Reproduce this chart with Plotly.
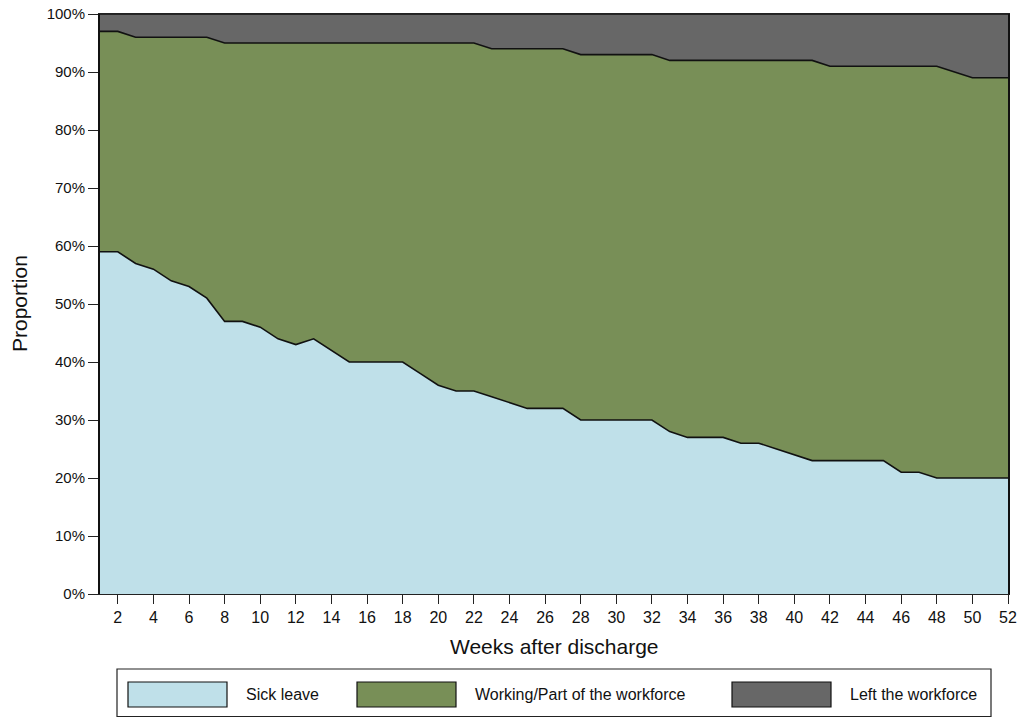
import plotly.graph_objects as go

weeks = list(range(1, 53))
sick_leave = [59, 59, 57, 56, 54, 53, 51, 47, 47, 46, 44, 43, 44, 42, 40, 40, 40, 40, 38, 36,
              35, 35, 34, 33, 32, 32, 32, 30, 30, 30, 30, 30, 28, 27, 27, 27, 26, 26, 25, 24,
              23, 23, 23, 23, 23, 21, 21, 20, 20, 20, 20, 20]
working = [38, 38, 39, 40, 42, 43, 45, 48, 48, 49, 51, 52, 51, 53, 55, 55, 55, 55, 57, 59,
           60, 60, 60, 61, 62, 62, 62, 63, 63, 63, 63, 63, 64, 65, 65, 65, 66, 66, 67, 68,
           69, 68, 68, 68, 68, 70, 70, 71, 70, 69, 69, 69]
left_workforce = [3, 3, 4, 4, 4, 4, 4, 5, 5, 5, 5, 5, 5, 5, 5, 5, 5, 5, 5, 5,
                  5, 5, 6, 6, 6, 6, 6, 7, 7, 7, 7, 7, 8, 8, 8, 8, 8, 8, 8, 8,
                  8, 9, 9, 9, 9, 9, 9, 9, 10, 11, 11, 11]
series_names = ["Sick leave", "Working/Part of the workforce", "Left the workforce"]
colors = ["#BFE0E9", "#788F57", "#676767"]
x_ticks = list(range(2, 53, 2))
y_ticks = list(range(0, 101, 10))

FONT = "Liberation Sans, Arial, sans-serif"

fig = go.Figure()
for name, vals, col in zip(series_names, [sick_leave, working, left_workforce], colors):
    fig.add_trace(go.Scatter(
        x=weeks, y=vals, name=name, stackgroup="one", mode="lines",
        line=dict(color="#111111", width=1.6), fillcolor=col, showlegend=False,
    ))

W, H = 1020, 718
L, R, T, B = 100, 1008, 14, 594  # plot area in pixels

def px(x):
    return (x - L) / (R - L)

def py(y):
    return (B - y) / (B - T)

shapes = [dict(type="rect", xref="paper", yref="paper",
               x0=px(117), x1=px(991), y0=py(669), y1=py(716.5),
               line=dict(color="#222222", width=1.2), fillcolor="white", layer="above")]
annotations = []
sw = [(128, 227, 244), (357, 456, 473), (732, 831, 848)]
for (x0, x1, tx), name, col in zip(sw, series_names, colors):
    shapes.append(dict(type="rect", xref="paper", yref="paper",
                       x0=px(x0), x1=px(x1), y0=py(707), y1=py(682),
                       line=dict(color="#111111", width=1.2), fillcolor=col, layer="above"))
    annotations.append(dict(xref="paper", yref="paper", x=px(tx), y=py(694.5),
                            text=name, showarrow=False, xanchor="left", yanchor="middle",
                            font=dict(family=FONT, size=16, color="#111111")))

# axis titles
annotations.append(dict(xref="paper", yref="paper", x=px(554), y=py(646),
                        text="Weeks after discharge", showarrow=False,
                        xanchor="center", yanchor="middle",
                        font=dict(family=FONT, size=21, color="#111111")))
annotations.append(dict(xref="paper", yref="paper", x=px(19), y=py(304),
                        text="Proportion", showarrow=False, textangle=-90,
                        xanchor="center", yanchor="middle",
                        font=dict(family=FONT, size=21, color="#111111")))

fig.update_layout(
    width=W, height=H,
    margin=dict(l=L, r=W - R, t=T, b=H - B, pad=0),
    paper_bgcolor="white", plot_bgcolor="white",
    font=dict(family=FONT, color="#111111"),
    shapes=shapes, annotations=annotations,
    xaxis=dict(range=[1, 52], tickvals=x_ticks, ticktext=[str(v) for v in x_ticks],
               ticks="outside", ticklen=9, tickwidth=1.2, tickcolor="#222222",
               showgrid=False, zeroline=False, showline=True, linecolor="#222222",
               linewidth=1.2, mirror=True, automargin=False, ticklabeloverflow="allow",
               tickfont=dict(size=16, family=FONT)),
    yaxis=dict(range=[0, 100], tickvals=y_ticks, ticktext=[f"{v}%" for v in y_ticks],
               ticks="outside", ticklen=10, tickwidth=1.2, tickcolor="#222222",
               showgrid=False, zeroline=False, showline=True, linecolor="#111111",
               linewidth=2, mirror=True, automargin=False, ticklabeloverflow="allow",
               tickfont=dict(size=15, family=FONT)),
)

fig.write_html(
    "out.html",
    config={"displayModeBar": False},
    post_script="document.body.style.margin='0';document.body.style.overflow='hidden';",
)
